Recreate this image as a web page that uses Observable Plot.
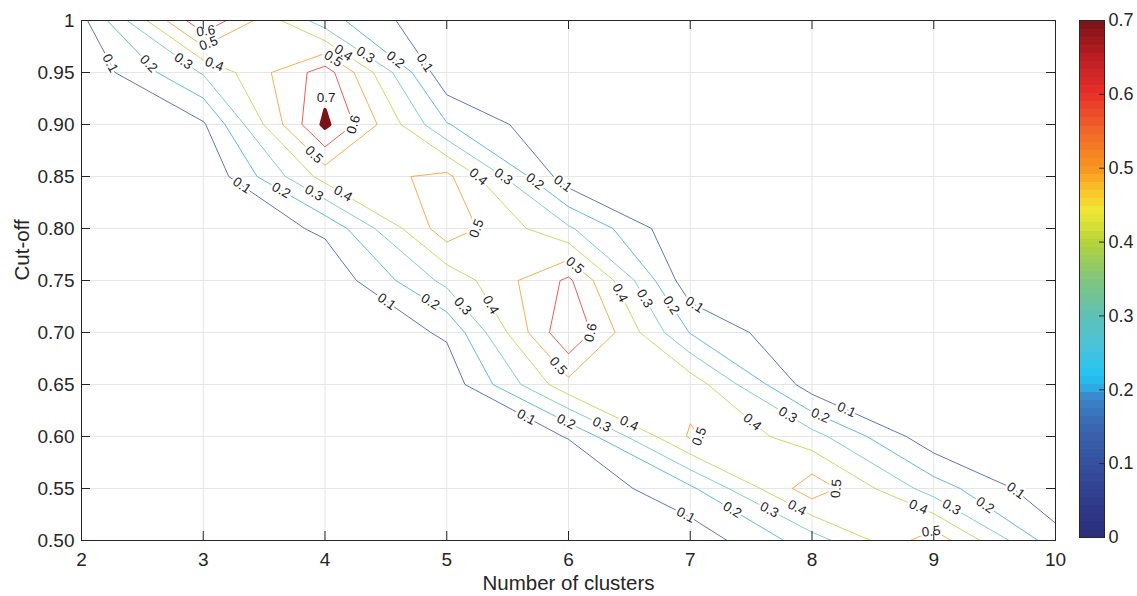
<!DOCTYPE html>
<html>
<head>
<meta charset="utf-8">
<script src="https://cdn.jsdelivr.net/npm/d3@7"></script>
<script src="https://cdn.jsdelivr.net/npm/@observablehq/plot@0.6"></script>
<style>
  html, body { margin: 0; padding: 0; background: #fff; }
  #chart { position: relative; width: 1137px; height: 596px; overflow: hidden; background: #fff; }
  #chart > svg { position: absolute; top: 0; background: transparent; }
</style>
</head>
<body>
<div id="chart"></div>
<script>
// ---------------- data ----------------
const clusters = [2, 3, 4, 5, 6, 7, 8, 9, 10];
const clusterTickLabels = ["2", "3", "4", "5", "6", "7", "8", "9", "10"];
const cutoffs = [0.50, 0.55, 0.60, 0.65, 0.70, 0.75, 0.80, 0.85, 0.90, 0.95, 1.00];
const cutoffTickLabels = ["0.50", "0.55", "0.60", "0.65", "0.70", "0.75", "0.80", "0.85", "0.90", "0.95", "1"];

// one row per cut-off value, one entry per number of clusters (2..10)
const cut050 = [0, 0, 0, 0, 0, 0.035, 0.25, 0.56, 0.14];
const cut055 = [0, 0, 0, 0, 0.01, 0.18, 0.562, 0.25, 0.02];
const cut060 = [0, 0, 0, 0, 0.105, 0.513, 0.34, 0.03, 0];
const cut065 = [0, 0, 0, 0.035, 0.47, 0.46, 0.045, 0, 0];
const cut070 = [0, 0, 0, 0.115, 0.69, 0.195, 0, 0, 0];
const cut075 = [0, 0, 0.02, 0.33, 0.62, 0.03, 0, 0, 0];
const cut080 = [0, 0, 0.12, 0.56, 0.315, 0, 0, 0, 0];
const cut085 = [0, 0.01, 0.44, 0.525, 0.04, 0, 0, 0, 0];
const cut090 = [0, 0.087, 0.72, 0.207, 0, 0, 0, 0, 0];
const cut095 = [0.02, 0.31, 0.65, 0.02, 0, 0, 0, 0, 0];
const cut100 = [0.07, 0.685, 0.24, 0, 0, 0, 0, 0, 0];

const levels = [0.1, 0.2, 0.3, 0.4, 0.5, 0.6, 0.7];
const levelLabels = ["0.1", "0.2", "0.3", "0.4", "0.5", "0.6", "0.7"];
const colorbarTicks = [0, 0.1, 0.2, 0.3, 0.4, 0.5, 0.6, 0.7];
const colorbarTickLabels = ["0", "0.1", "0.2", "0.3", "0.4", "0.5", "0.6", "0.7"];

// colormap (style)
const cmapStops  = [0, 0.05, 0.10, 0.15, 0.19, 0.20, 0.22, 0.26, 0.30, 0.35, 0.40, 0.44, 0.47, 0.50, 0.55, 0.60, 0.65, 0.70];
const cmapColors = ["#2b2c7c", "#303c8c", "#35509f", "#3a66b0", "#3b86cb", "#30a6e0", "#22c4f2", "#4cc3da", "#5ec1b5",
                    "#82c57c", "#b5d33a", "#efe934", "#fcc22a", "#f7961f", "#f1672a", "#e9302a", "#bb1d24", "#7a1315"];

// ---------------- layout / style ----------------
const W = 1137, H = 596, mL = 81, mR = 82, mT = 20, mB = 56;
const fw = W - mL - mR, fh = H - mT - mB;
const TICK = 9;
const FONT = "'Liberation Sans', Arial, Helvetica, sans-serif";
const INK = "#262626";

// ---------------- grid ----------------
const nx = clusters.length, ny = cutoffs.length;
const stepX = clusters[1] - clusters[0], stepY = cutoffs[1] - cutoffs[0];
const gx1 = clusters[0] - stepX / 2, gx2 = clusters[nx - 1] + stepX / 2;
const gy1 = cutoffs[0] - stepY / 2, gy2 = cutoffs[ny - 1] + stepY / 2;
const rows = [cut050, cut055, cut060, cut065, cut070, cut075, cut080, cut085, cut090, cut095, cut100];
const grid = rows.flat();
const gridNeg = grid.map(v => -v);

const xDomain = [clusters[0], clusters[nx - 1]];
const yDomain = [cutoffs[0], cutoffs[ny - 1]];
const colorOpts = {type: "linear", domain: cmapStops, range: cmapColors, interpolate: "rgb"};
const cscale = Plot.scale({color: colorOpts});
const xs = Plot.scale({x: {domain: xDomain, range: [mL, W - mR]}});
const ys = Plot.scale({y: {domain: yDomain, range: [H - mB, mT]}});

const peak = levels[levels.length - 1];
// saddle handling: lower levels join the high corners (contour the negated field)
const joinHigh = t => t < 0.45;

// ---------------- inline contour labels (computed from the same contours) ----------------
const SPACING = 188, CHORD = 8;
const labels = [], peakLabels = [];
const eps = 1e-9;
const inside = ([X, Y]) => X >= xDomain[0] - eps && X <= xDomain[1] + eps && Y >= yDomain[0] - eps && Y <= yDomain[1] + eps;

function placeLabels(pts, closed, t, text) {
  let S = pts.map(([X, Y]) => [xs.apply(X), ys.apply(Y)]);
  if (closed) {
    let area = 0;
    for (let i = 0; i < S.length; i++) {
      const j = (i + 1) % S.length;
      area += S[i][0] * S[j][1] - S[j][0] * S[i][1];
    }
    if (area > 0) S.reverse();
    let r = 0;
    for (let i = 1; i < S.length; i++) if (S[i][0] > S[r][0]) r = i;
    S = S.slice(r).concat(S.slice(0, r));
    S.push(S[0]);
  } else if (S[0][0] > S[S.length - 1][0]) S.reverse();
  const cum = [0];
  for (let i = 1; i < S.length; i++) cum.push(cum[i - 1] + Math.hypot(S[i][0] - S[i - 1][0], S[i][1] - S[i - 1][1]));
  const L = cum[cum.length - 1];
  if (L < 6) return;
  if (t === peak && closed) {
    let top = Infinity, cx = 0;
    for (const p of S) { if (p[1] < top) top = p[1]; cx += p[0]; }
    cx /= S.length;
    peakLabels.push({x: xs.invert(cx), y: ys.invert(top), text});
    return;
  }
  const at = s => {
    if (closed) s = ((s % L) + L) % L; else s = Math.max(0, Math.min(L, s));
    let i = 1;
    while (i < cum.length - 1 && cum[i] < s) i++;
    const seg = cum[i] - cum[i - 1] || 1;
    const f = (s - cum[i - 1]) / seg;
    return [S[i - 1][0] + f * (S[i][0] - S[i - 1][0]), S[i - 1][1] + f * (S[i][1] - S[i - 1][1])];
  };
  let positions = [];
  if (closed) {
    const n = Math.max(1, Math.round(L / SPACING));
    for (let k = 0; k < n; k++) positions.push(n === 1 ? 0 : (k + 0.5) * L / n);
  } else {
    const n = Math.floor(L / SPACING) + 1;
    const off = (L - (n - 1) * SPACING) / 2;
    for (let k = 0; k < n; k++) positions.push(off + k * SPACING);
  }
  for (const s of positions) {
    const p = at(s), a = at(s - CHORD), b = at(s + CHORD);
    let ang = Math.atan2(b[1] - a[1], b[0] - a[0]) * 180 / Math.PI;
    if (ang > 90) ang -= 180;
    if (ang < -90) ang += 180;
    labels.push({x: xs.invert(p[0]), y: ys.invert(p[1]), text, angle: ang});
  }
}

levels.forEach((t, li) => {
  const neg = joinHigh(t);
  const mp = d3.contours().size([nx, ny]).contour(neg ? gridNeg : grid, neg ? -t : t);
  for (const poly of mp.coordinates) for (const ring of poly) {
    const pts = ring.slice(0, -1).map(([px, py]) => [gx1 + px * (gx2 - gx1) / nx, gy1 + py * (gy2 - gy1) / ny]);
    const flags = pts.map(inside);
    if (flags.every(Boolean)) { placeLabels(pts, true, t, levelLabels[li]); continue; }
    if (!flags.some(Boolean)) continue;
    const k = flags.indexOf(false);
    const P = pts.slice(k).concat(pts.slice(0, k));
    const F = flags.slice(k).concat(flags.slice(0, k));
    let cur = [];
    for (let i = 0; i < P.length; i++) {
      if (F[i]) cur.push(P[i]);
      else { if (cur.length > 1) placeLabels(cur, false, t, levelLabels[li]); cur = []; }
    }
    if (cur.length > 1) placeLabels(cur, false, t, levelLabels[li]);
  }
});

// ---------------- marks ----------------
const contourMarks = levels.map(t => Plot.contour(joinHigh(t) ? gridNeg : grid, {
  width: nx, height: ny, x1: gx1, x2: gx2, y1: gy1, y2: gy2,
  value: Plot.identity,
  thresholds: [joinHigh(t) ? -t : t],
  stroke: cscale.apply(t),
  strokeOpacity: t === peak ? 1 : 0.78,
  fill: t === peak ? cscale.apply(t) : "none",
  strokeWidth: t === peak ? 3.5 : 1,
  strokeLinejoin: "round",
  clip: true
}));

const LABEL_FONT_SIZE = 13.5;
const main = Plot.plot({
  width: W, height: H, marginLeft: mL, marginRight: mR, marginTop: mT, marginBottom: mB,
  style: {fontFamily: FONT, fontSize: "19px", color: INK, background: "transparent"},
  x: {domain: xDomain, label: null},
  y: {domain: yDomain, label: null},
  marks: [
    Plot.gridX(clusters, {stroke: "#e6e6e6", strokeOpacity: 1}),
    Plot.gridY(cutoffs, {stroke: "#e6e6e6", strokeOpacity: 1}),
    ...contourMarks,
    // halo that breaks the line under each label
    Plot.text(labels, {x: "x", y: "y", text: "text", rotate: "angle", fontSize: LABEL_FONT_SIZE, fontFamily: FONT,
      fill: "#ffffff", stroke: "#ffffff", strokeWidth: 5, strokeLinejoin: "round"}),
    Plot.text(labels, {x: "x", y: "y", text: "text", rotate: "angle", fontSize: LABEL_FONT_SIZE, fontFamily: FONT,
      fill: "#1e1e1e"}),
    Plot.text(peakLabels, {x: "x", y: "y", text: "text", dy: -12, fontSize: LABEL_FONT_SIZE, fontFamily: FONT, fill: "#1e1e1e"}),
    Plot.frame({stroke: INK, strokeWidth: 1}),
    Plot.tickX(clusters, {insetTop: fh - TICK, stroke: INK}),
    Plot.tickX(clusters, {insetBottom: fh - TICK, stroke: INK}),
    Plot.tickY(cutoffs, {insetRight: fw - TICK, stroke: INK}),
    Plot.tickY(cutoffs, {insetLeft: fw - TICK, stroke: INK}),
    Plot.axisX(clusters, {anchor: "bottom", tickSize: 0, tickPadding: 12, fill: INK,
      tickFormat: d => clusterTickLabels[clusters.indexOf(d)]}),
    Plot.axisY(cutoffs, {anchor: "left", tickSize: 0, tickPadding: 7, fill: INK,
      tickFormat: d => cutoffTickLabels[cutoffs.indexOf(d)]}),
    Plot.text(["Number of clusters"], {text: d => d, frameAnchor: "bottom", dy: 49, fontFamily: FONT, fontSize: 20.5, fill: INK}),
    Plot.text(["Cut-off"], {text: d => d, frameAnchor: "left", dx: -59, rotate: -90, fontFamily: FONT, fontSize: 20.5, fill: INK})
  ]
});

const barW = 25;
const bar = Plot.plot({
  width: 67, height: H, marginLeft: 9, marginRight: 67 - 9 - barW, marginTop: 20, marginBottom: 59,
  style: {fontFamily: FONT, fontSize: "18px", color: INK, background: "transparent"},
  x: {domain: [0, 1], axis: null},
  y: {domain: [colorbarTicks[0], colorbarTicks[colorbarTicks.length - 1]], label: null},
  color: colorOpts,
  marks: [
    Plot.raster({fill: (x, y) => y, x1: 0, x2: 1, y1: colorbarTicks[0], y2: colorbarTicks[colorbarTicks.length - 1],
      width: 1, height: 64, imageRendering: "pixelated"}),
    Plot.frame({stroke: INK, strokeWidth: 1}),
    Plot.tickY(colorbarTicks.slice(1, -1), {insetLeft: barW - 5, stroke: INK}),
    Plot.axisY(colorbarTicks, {anchor: "right", tickSize: 0, tickPadding: 4, fill: INK,
      tickFormat: d => colorbarTickLabels[colorbarTicks.indexOf(d)]})
  ]
});

const host = document.getElementById("chart");
main.style.left = "0px";
bar.style.left = "1070px";
host.appendChild(main);
host.appendChild(bar);
</script>
</body>
</html>
